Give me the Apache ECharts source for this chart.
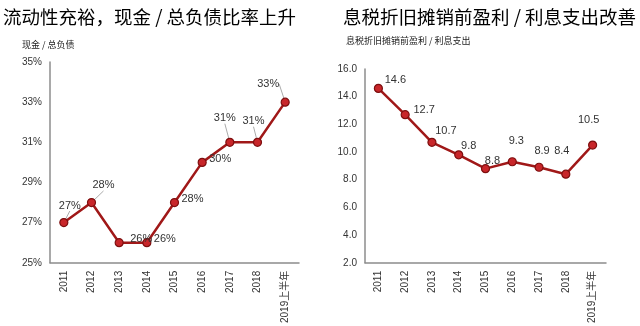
<!DOCTYPE html>
<html><head><meta charset="utf-8">
<script src="https://cdn.jsdelivr.net/npm/echarts@6/dist/echarts.min.js"></script>
<style>html,body{margin:0;padding:0;background:#fff}#c{width:640px;height:326px}</style>
</head><body><div id="c"></div>
<script>
const categories = ['2011','2012','2013','2014','2015','2016','2017','2018','2019上半年'];
const cashRatio = [27,28,26,26,28,30,31,31,33];
const ebitdaCover = [14.6,12.7,10.7,9.8,8.8,9.3,8.9,8.4,10.5];
const leftTicks = [25,27,29,31,33,35];
const leftTitle = '流动性充裕，现金 / 总负债比率上升';
const leftSub = '现金 / 总负债';
const rightTitle = '息税折旧摊销前盈利 / 利息支出改善';
const rightSub = '息税折旧摊销前盈利 / 利息支出';

const leftShift = [[6,-2],[12,-2],[22,11],[18,11],[18,12],[18,12],[-5,-9],[-4,-6],[-17,-3]];
const leftLead = [true,true,false,false,false,false,true,true,true];
const rightShift = [[17,7],[19,10],[14,4],[10,6],[7,7],[4,-6],[3,-1],[-4,-8],[-4,-10]];

const font = 'Liberation Sans, Arial, sans-serif';
const cjk = '"Noto Sans CJK SC", sans-serif';
const lineColor = '#A01818';

function xAxis(gi){
  return {type:'category', gridIndex:gi, data:categories, boundaryGap:true,
    axisLine:{lineStyle:{color:'#8c8c8c', width:1.5}}, axisTick:{show:false},
    axisLabel:{rotate:90, color:'#333', fontSize:10, fontFamily:'Liberation Sans, "Noto Sans CJK SC", sans-serif', interval:0, margin:8}};
}
function series(gi, data, shift, fmt, lead){
  return {type:'line', xAxisIndex:gi, yAxisIndex:gi, data:data.map((v,i)=>({value:v,
      labelLine:{show: lead ? lead[i] : false}})),
    symbol:'circle', symbolSize:8,
    lineStyle:{color:lineColor, width:2.5},
    itemStyle:{color:'#C8262A', borderColor:'#7d0f0f', borderWidth:1.2},
    label:{show:true, position:'top', color:'#333', fontSize:11, fontFamily:font, formatter:fmt},
    labelLine:{show:false, lineStyle:{color:'#aaa', width:1}},
    labelLayout:function(p){ const s=shift[p.dataIndex]; return {dx:s[0], dy:s[1]}; },
    animation:false};
}
const chart = echarts.init(document.getElementById('c'));
chart.setOption({
  animation:false,
  title:[
    {text:leftTitle, left:-2, top:3, textStyle:{fontFamily:cjk, fontSize:18.5, fontWeight:'normal', color:'#000'}},
    {text:leftSub, left:17, top:35, textStyle:{fontFamily:cjk, fontSize:9, fontWeight:'normal', color:'#222'}},
    {text:rightTitle, left:338, top:3, textStyle:{fontFamily:cjk, fontSize:18.5, fontWeight:'normal', color:'#000'}},
    {text:rightSub, left:341, top:31, textStyle:{fontFamily:cjk, fontSize:9, fontWeight:'normal', color:'#222'}}
  ],
  grid:[
    {left:50, top:62, width:249, height:205},
    {left:365, top:69, width:241, height:198}
  ],
  xAxis:[xAxis(0), xAxis(1)],
  yAxis:[
    {type:'value', gridIndex:0, min:25, max:35, splitLine:{show:false},
     axisLine:{show:true, lineStyle:{color:'#8c8c8c', width:1.5}}, axisTick:{show:false},
     axisLabel:{customValues:leftTicks, formatter:v=>v+'%', color:'#333', fontSize:10, fontFamily:font, margin:8}},
    {type:'value', gridIndex:1, min:2, max:16, interval:2, splitLine:{show:false},
     axisLine:{show:true, lineStyle:{color:'#8c8c8c', width:1.5}}, axisTick:{show:false},
     axisLabel:{formatter:v=>v.toFixed(1), color:'#333', fontSize:10, fontFamily:font, margin:8}}
  ],
  series:[
    series(0, cashRatio, leftShift, p=>p.value+'%', leftLead),
    series(1, ebitdaCover, rightShift, p=>p.value.toFixed(1), null)
  ]
});
</script></body></html>
